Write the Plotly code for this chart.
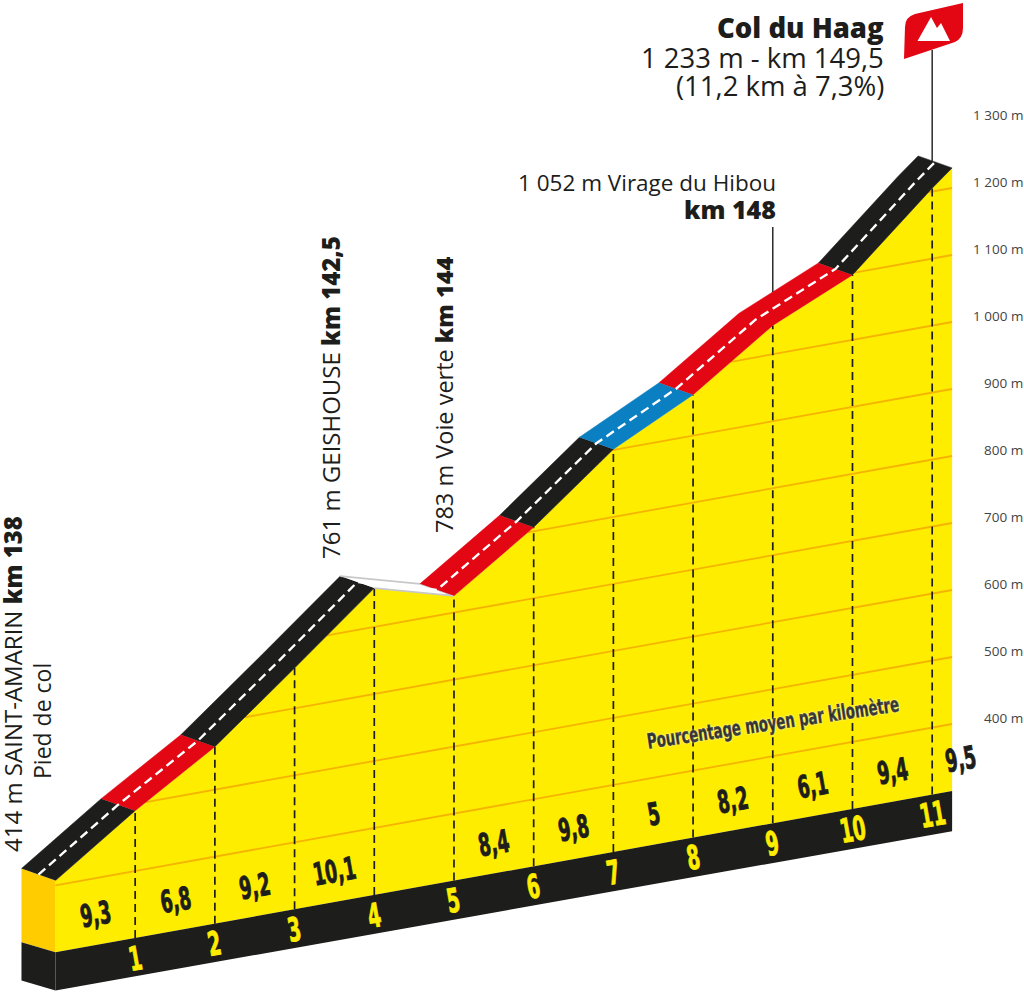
import numpy as np
import plotly.graph_objects as go

# ---- data ----
km = [0, 1, 2, 3, 4, 5, 6, 7, 8, 9, 10, 11, 11.25]
altitude = [407, 490, 564, 660, 758, 725, 806, 901, 961, 1043, 1097, 1205, 1230]
grid_alt = [400, 500, 600, 700, 800, 900, 1000, 1100, 1200]
axis_alt = [400, 500, 600, 700, 800, 900, 1000, 1100, 1200, 1300]
axis_text = ["400 m", "500 m", "600 m", "700 m", "800 m", "900 m", "1 000 m", "1 100 m", "1 200 m", "1 300 m"]
road_start = [0, 1, 2, 4, 5, 6, 7, 8, 10]
road_end = [1, 2, 4, 5, 6, 7, 8, 10, 11.25]
road_color = ["#1d1d1b", "#e30613", "#1d1d1b", "#ffffff", "#e30613", "#1d1d1b", "#0a7fc2", "#e30613", "#1d1d1b"]
km_marks = [1, 2, 3, 4, 5, 6, 7, 8, 9, 10, 11]
pct_km = [0.5, 1.5, 2.5, 3.5, 5.5, 6.5, 7.5, 8.5, 9.5, 10.5, 11.35]
pct_text = ["9,3", "6,8", "9,2", "10,1", "8,4", "9,8", "5", "8,2", "6,1", "9,4", "9,5"]
base_top_alt = 300
base_bottom_alt = 240

# ---- oblique projection of (km, metres) onto the axes ----
SKEW = 21.4       # metres of apparent rise per km
KM_END = 11.25
ROAD_DKM = -0.4266
ROAD_DY = 17.9
XR = [-0.696, 12.152]
YR = [0, 1480.6]


def py_(k, a):
    return a + SKEW * (k - KM_END)


def alt_at(k):
    return float(np.interp(k, km, altitude))


def px2x(p):
    return XR[0] + p / 1024 * (XR[1] - XR[0])


def py2y(p):
    return YR[0] + (992 - p) / 992 * (YR[1] - YR[0])


fig = go.Figure()


def poly(xs, ys, color, line=None, lw=0):
    fig.add_trace(go.Scatter(
        x=xs, y=ys, mode="lines", fill="toself", fillcolor=color,
        line=dict(color=line or color, width=lw), hoverinfo="skip", showlegend=False))


def line(xs, ys, color, width, dash="solid"):
    fig.add_trace(go.Scatter(
        x=xs, y=ys, mode="lines", line=dict(color=color, width=width, dash=dash),
        hoverinfo="skip", showlegend=False))


k0, k1 = km[0], km[-1]
# yellow body
poly([k for k in km] + [k1, k0],
     [py_(k, a) for k, a in zip(km, altitude)] + [py_(k1, base_top_alt), py_(k0, base_top_alt)],
     "#ffed00")
# left face
poly([k0 + ROAD_DKM, k0, k0, k0 + ROAD_DKM],
     [py_(k0, altitude[0]) + ROAD_DY, py_(k0, altitude[0]), py_(k0, base_top_alt), py_(k0, base_top_alt) + 15],
     "#ffcc00")
poly([k0 + ROAD_DKM, k0, k0, k0 + ROAD_DKM],
     [py_(k0, base_top_alt) + 15, py_(k0, base_top_alt), py_(k0, base_bottom_alt) + 3, py_(k0, base_bottom_alt) + 18],
     "#1d1d1b")
# black base
poly([k0, k1, k1, k0],
     [py_(k0, base_top_alt), py_(k1, base_top_alt), py_(k1, base_bottom_alt), py_(k0, base_bottom_alt) + 3],
     "#1d1d1b")

# altitude grid lines, from where they leave the profile
for g in grid_alt:
    start = k0
    if g > altitude[0]:
        for i in range(len(km) - 1):
            if altitude[i] < g <= altitude[i + 1]:
                start = km[i] + (g - altitude[i]) / (altitude[i + 1] - altitude[i]) * (km[i + 1] - km[i])
                break
    line([start, k1], [py_(start, g), py_(k1, g)], "#f5b400", 1.8)

# km dashes
for m in km_marks:
    line([m, m], [py_(m, base_top_alt), py_(m, alt_at(m))], "#1d1d1b", 1.7, "8px,5px")

# road
for s, e, c in zip(road_start, road_end, road_color):
    ks = [k for k in km if s <= k <= e]
    low_x = ks
    low_y = [py_(k, alt_at(k)) for k in ks]
    up_x = [k + ROAD_DKM for k in ks]
    up_y = [y + ROAD_DY for y in low_y]
    if c == "#ffffff":
        poly(low_x + up_x[::-1], low_y + up_y[::-1], c, "#c8c8c8", 1.6)
    else:
        poly(low_x + up_x[::-1], low_y + up_y[::-1], c, c, 0.5)
cx = [k + ROAD_DKM / 2 for k in km]
cy = [py_(k, a) + ROAD_DY / 2 for k, a in zip(km, altitude)]
line(cx, cy, "#ffffff", 2.4, "9px,5px")

# leader lines
line([11, 11], [py2y(161), py2y(50)], "#2b2b2b", 1.5)
line([9, 9], [py2y(292), py2y(227)], "#2b2b2b", 1.5)

shapes = []


def P(px, py):
    return f"{px2x(px)},{py2y(py)}"


flag = (f"M{P(904,59)} L{P(905,27)} Q{P(905,17)} {P(915,14)} L{P(963,3)} "
        f"L{P(963,28)} Q{P(963,38)} {P(955,42)} Z")
peak = (f"M{P(917.5,41)} L{P(931,17)} L{P(937,28)} L{P(941,23)} L{P(950,41)} Z")
shapes.append(dict(type="path", xref="x", yref="y", path=flag, fillcolor="#e30613", line=dict(width=0), layer="above"))
shapes.append(dict(type="path", xref="x", yref="y", path=peak, fillcolor="#ffffff", line=dict(width=0), layer="above"))

# ---- text ----
SANS = "Open Sans"
NARROW = "DejaVu Sans Condensed"
DARK = "#1d1d1b"


def text(px, py, s, size, color=DARK, family=SANS, angle=0, anchor="center", **font_extra):
    fig.add_annotation(
        x=px / 1024, y=1 - py / 992, xref="paper", yref="paper", text=s, showarrow=False,
        xanchor=anchor, yanchor="middle", textangle=angle,
        font=dict(family=family, size=size, color=color, **font_extra),
        borderpad=0, align="right" if anchor == "right" else "center")


text(885, 27, "Col du Haag", 27.5, anchor="right", weight=800)
text(885, 57, "1 233 m - km 149,5", 27.5, anchor="right")
text(885, 85, "(11,2 km à 7,3%)", 27.5, anchor="right")
text(777, 182, "1 052 m Virage du Hibou", 22.5, anchor="right")
text(777, 209, "km 148", 25, anchor="right", weight=800)
text(12, 684, '414 m SAINT-AMARIN <span style="font-weight:800">km 138</span>', 24, angle=-90)
text(42, 721, "Pied de col", 23, angle=-90)
text(331, 398, '761 m GEISHOUSE <span style="font-weight:800">km 142,5</span>', 24, angle=-90)
text(444, 395, '783 m Voie verte <span style="font-weight:800">km 144</span>', 23.5, angle=-90)

for a, s in zip(axis_alt, axis_text):
    fig.add_annotation(x=1, y=a + 9, xref="paper", yref="y", text=s, showarrow=False, xshift=1,
                       xanchor="right", yanchor="middle", font=dict(family=SANS, size=13.5, color="#444444"))

for k, s in zip(pct_km, pct_text):
    fig.add_annotation(x=k, y=py_(k, base_top_alt) + 46, xref="x", yref="y", text=s, showarrow=False,
                       textangle=-10, font=dict(family=NARROW, size=31, color=DARK, weight=700))
for m in km_marks:
    fig.add_annotation(x=m, y=py_(m, base_top_alt) - 30, xref="x", yref="y", text=str(m), showarrow=False,
                       textangle=-10, font=dict(family=NARROW, size=33, color="#ffed00", weight=700))
text(773, 723, "Pourcentage moyen par kilomètre", 21, family=NARROW, angle=-8.5, weight=700,
     shadow="0 0 2px #ffffff")

# the originals use a tall condensed face: narrow the real text elements in place
condense = """
var gd = document.getElementById('{plot_id}');
function narrow() {
  gd.querySelectorAll('text.annotation-text').forEach(function (t) {
    if (t.dataset.narrowed || (t.style.fontFamily || '').indexOf('Condensed') < 0) return;
    var b = t.getBBox(), cx = b.x + b.width / 2;
    var long = t.textContent.indexOf('Pourcentage') === 0;
    var f = long ? 0.70 : 0.62;
    t.setAttribute('transform', 'translate(' + cx + ',0) scale(' + f + ',1) translate(' + (-cx) + ',0)');
    t.style.stroke = t.style.fill;
    t.style.strokeWidth = long ? '0.4px' : '0.9px';
    t.dataset.narrowed = '1';
  });
}
document.body.style.margin = '0';
narrow();
setTimeout(narrow, 50);
"""

fig.update_layout(
    width=1024, height=992, margin=dict(l=0, r=0, t=0, b=0),
    paper_bgcolor="#ffffff", plot_bgcolor="#ffffff", showlegend=False, shapes=shapes,
    xaxis=dict(range=XR, visible=False, fixedrange=True),
    yaxis=dict(range=YR, visible=False, fixedrange=True),
)
fig.write_html("out.html", config={"displayModeBar": False}, post_script=condense)
